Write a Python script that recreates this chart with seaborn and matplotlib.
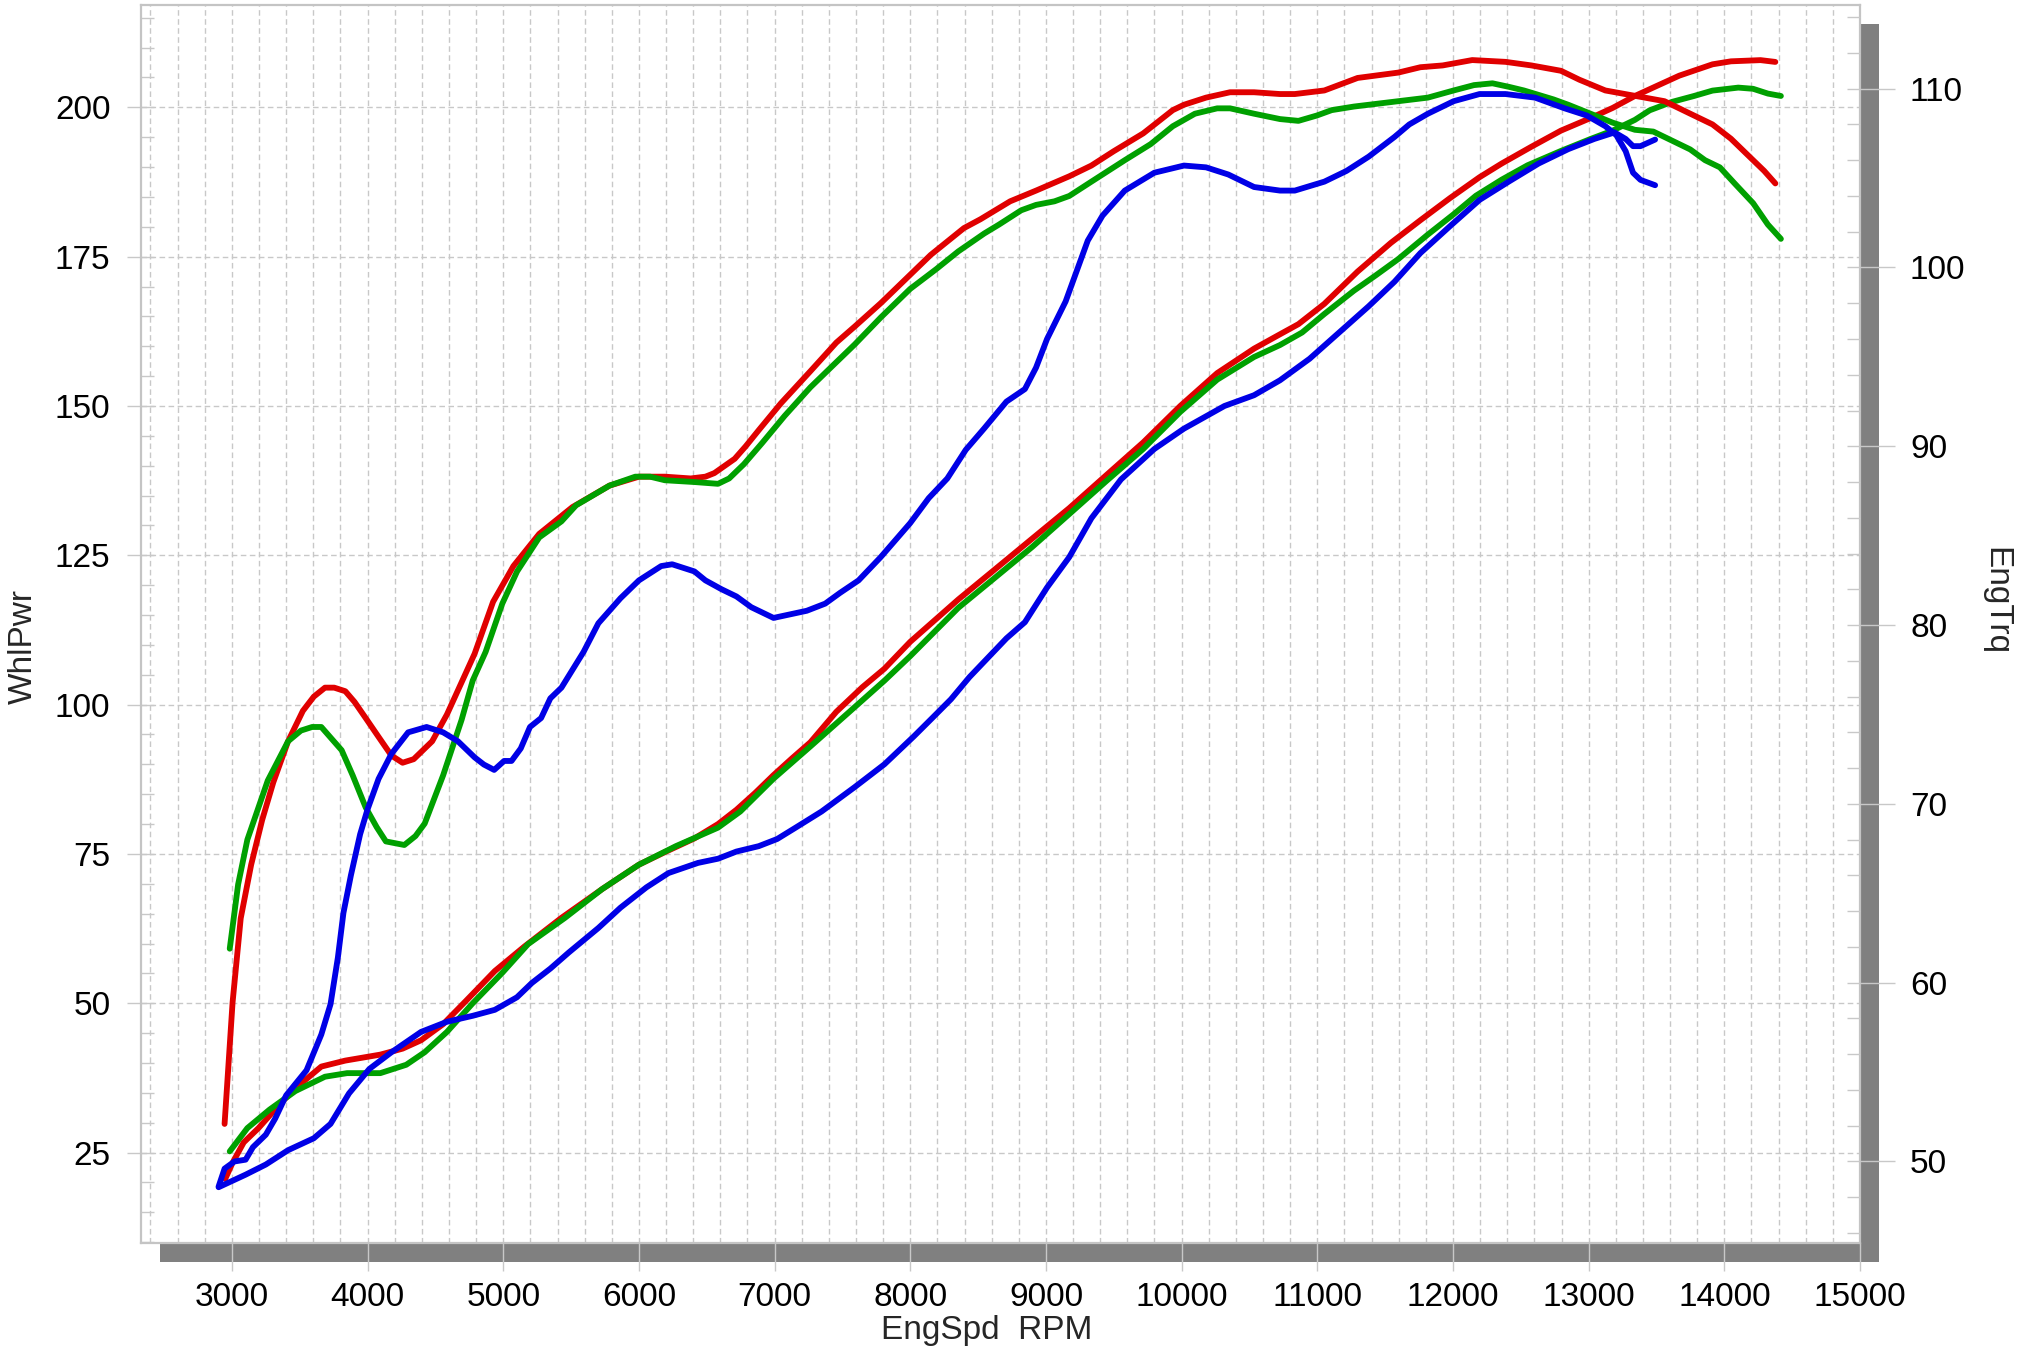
import matplotlib
matplotlib.use("Agg")
import matplotlib.pyplot as plt
from matplotlib.patches import Rectangle
from matplotlib.ticker import MultipleLocator
import seaborn as sns

# ---------------- data ----------------
red_pwr_rpm = [2951, 3005, 3087, 3196, 3373, 3496, 3659, 3836, 4094, 4258, 4394, 4557, 4721, 4938,
               5156, 5429, 5728, 6000, 6191, 6409, 6583, 6719, 6856, 6992, 7128, 7264, 7455, 7646,
               7809, 7999, 8354, 8627, 8899, 9172, 9444, 9717, 9990, 10262, 10534, 10725, 10861,
               11052, 11297, 11542, 11760, 11978, 12196, 12360, 12578, 12796, 13014, 13177, 13341,
               13504, 13668, 13913, 14049, 14267, 14376]
red_pwr = [20.6, 23.3, 26.7, 29.1, 33.6, 36.3, 39.4, 40.4, 41.4, 42.4, 43.8, 46.5, 50.3, 55.4,
           59.5, 64.3, 69.1, 73.2, 75.3, 77.6, 80.0, 82.4, 85.2, 88.2, 91.0, 93.7, 98.8, 102.9,
           106.0, 110.5, 117.6, 122.7, 127.8, 132.9, 138.4, 143.9, 150.0, 155.5, 159.6, 162.0, 163.7,
           167.1, 172.5, 177.3, 181.1, 184.8, 188.3, 190.6, 193.4, 196.1, 198.2, 199.9, 201.9,
           203.6, 205.3, 207.2, 207.7, 207.9, 207.6]

red_trq_rpm = [2946, 3005, 3065, 3142, 3223, 3305, 3414, 3523, 3604, 3686, 3754, 3836, 3904, 3986,
               4067, 4176, 4258, 4340, 4476, 4585, 4693, 4789, 4925, 5075, 5265, 5510, 5783, 6000,
               6191, 6382, 6490, 6556, 6706, 6787, 6883, 7046, 7264, 7455, 7591, 7782, 7973, 8150,
               8395, 8518, 8736, 8927, 9172, 9335, 9499, 9717, 9935, 10017, 10180, 10357, 10534,
               10725, 10834, 11052, 11297, 11597, 11760, 11924, 12142, 12387, 12578, 12796, 12932,
               13123, 13341, 13559, 13749, 13913, 14049, 14185, 14294, 14376]
red_trq = [52.1, 58.9, 63.6, 66.6, 69.1, 71.2, 73.5, 75.2, 76.0, 76.5, 76.5, 76.3, 75.7, 74.8,
           73.9, 72.7, 72.3, 72.5, 73.5, 75.0, 76.8, 78.4, 81.3, 83.3, 85.1, 86.6, 87.8, 88.3,
           88.3, 88.2, 88.3, 88.5, 89.3, 90.0, 90.9, 92.4, 94.2, 95.8, 96.7, 98.0, 99.4, 100.7,
           102.2, 102.7, 103.7, 104.3, 105.1, 105.7, 106.5, 107.5, 108.8, 109.1, 109.5, 109.8, 109.8,
           109.7, 109.7, 109.9, 110.6, 110.9, 111.2, 111.3, 111.6, 111.5, 111.3, 111.0, 110.5,
           109.9, 109.6, 109.3, 108.6, 108.0, 107.2, 106.2, 105.4, 104.7]

grn_pwr_rpm = [2984, 3114, 3278, 3468, 3686, 3849, 4094, 4285, 4421, 4585, 4775, 4993, 5183, 5455,
               5728, 6000, 6272, 6583, 6747, 6992, 7264, 7537, 7809, 7999, 8354, 8627, 8899, 9172,
               9444, 9717, 9990, 10262, 10534, 10725, 10888, 11052, 11270, 11433, 11597, 11815,
               12005, 12169, 12360, 12550, 12796, 13014, 13177, 13341, 13450, 13613, 13777, 13913,
               14103, 14212, 14321, 14417]
grn_pwr = [25.2, 29.1, 32.2, 35.3, 37.7, 38.3, 38.3, 39.7, 41.8, 45.2, 50.0, 55.1, 59.9, 64.3,
           69.1, 73.2, 76.3, 79.4, 82.1, 87.6, 93.0, 98.5, 104.0, 108.1, 116.2, 121.3, 126.4, 131.9,
           137.4, 142.8, 149.0, 154.4, 158.2, 160.2, 162.3, 165.4, 169.3, 171.9, 174.6, 178.7,
           182.1, 185.2, 187.9, 190.3, 192.7, 194.7, 196.1, 197.9, 199.5, 200.9, 201.9, 202.8,
           203.3, 203.1, 202.3, 201.9]

grn_trq_rpm = [2984, 3046, 3114, 3264, 3414, 3509, 3591, 3659, 3809, 3890, 3986, 4067, 4135, 4271,
               4353, 4421, 4557, 4693, 4775, 4870, 4993, 5102, 5265, 5429, 5537, 5783, 5973, 6082,
               6191, 6409, 6583, 6665, 6774, 6910, 7074, 7264, 7400, 7591, 7782, 7999, 8190, 8354,
               8545, 8654, 8818, 8927, 9063, 9172, 9335, 9581, 9772, 9935, 10098, 10262, 10357,
               10534, 10725, 10861, 10997, 11106, 11270, 11488, 11706, 11815, 12005, 12155, 12291,
               12414, 12523, 12741, 12850, 13014, 13177, 13341, 13477, 13613, 13749, 13858, 13967,
               14076, 14212, 14321, 14417]
grn_trq = [61.9, 65.5, 68.0, 71.3, 73.5, 74.1, 74.3, 74.3, 73.0, 71.6, 69.8, 68.7, 67.9, 67.7,
           68.2, 68.9, 71.6, 74.7, 76.9, 78.5, 81.2, 83.0, 84.9, 85.8, 86.7, 87.8, 88.3, 88.3,
           88.1, 88.0, 87.9, 88.2, 89.0, 90.2, 91.7, 93.3, 94.3, 95.7, 97.2, 98.8, 99.9, 100.9,
           101.9, 102.4, 103.2, 103.5, 103.7, 104.0, 104.8, 106.0, 106.9, 107.9, 108.6, 108.9, 108.9,
           108.6, 108.3, 108.2, 108.5, 108.8, 109.0, 109.2, 109.4, 109.5, 109.9, 110.2, 110.3,
           110.1, 109.9, 109.4, 109.1, 108.6, 108.1, 107.7, 107.6, 107.1, 106.6, 106.0, 105.6,
           104.7, 103.6, 102.4, 101.6]

blu_pwr_rpm = [2902, 3101, 3250, 3414, 3604, 3727, 3863, 4013, 4176, 4394, 4585, 4775, 4938, 5101,
               5211, 5347, 5483, 5701, 5864, 6055, 6218, 6436, 6583, 6719, 6883, 7019, 7155, 7346,
               7591, 7809, 8027, 8164, 8300, 8436, 8709, 8845, 9008, 9172, 9335, 9553, 9799, 10017,
               10316, 10534, 10725, 10943, 11161, 11379, 11569, 11760, 11978, 12196, 12414, 12632,
               12850, 13041, 13191, 13273, 13327, 13382, 13490]
blu_pwr = [19.2, 21.3, 23.0, 25.4, 27.4, 29.8, 34.9, 39.0, 41.8, 45.2, 46.9, 47.9, 48.9, 51.0,
           53.4, 55.8, 58.5, 62.6, 66.0, 69.4, 71.8, 73.5, 74.2, 75.4, 76.3, 77.5, 79.4, 82.1,
           86.2, 90.0, 94.7, 97.8, 100.9, 104.6, 111.1, 113.8, 119.6, 124.7, 131.2, 137.7, 142.8, 146.2,
           150.0, 151.8, 154.3, 157.9, 162.3, 166.7, 170.8, 175.6, 180.1, 184.5, 187.6, 190.6,
           193.0, 194.7, 195.8, 194.7, 193.5, 193.5, 194.6]

blu_trq_rpm = [2902, 2946, 3019, 3101, 3155, 3250, 3319, 3400, 3550, 3659, 3727, 3781, 3822, 3877,
               3945, 4000, 4081, 4176, 4299, 4435, 4557, 4666, 4789, 4857, 4933, 5006, 5061, 5129,
               5197, 5279, 5347, 5429, 5592, 5701, 5864, 6000, 6164, 6245, 6409, 6490, 6610, 6719,
               6828, 6992, 7237, 7373, 7482, 7619, 7782, 7999, 8136, 8273, 8409, 8545, 8709, 8845,
               8927, 9008, 9145, 9308, 9417, 9581, 9799, 10017, 10180, 10344, 10534, 10725, 10834,
               11052, 11215, 11379, 11569, 11678, 11815, 12005, 12196, 12387, 12605, 12823, 12986,
               13123, 13204, 13273, 13327, 13382, 13490]
blu_trq = [48.6, 49.6, 50.0, 50.1, 50.8, 51.5, 52.4, 53.7, 55.1, 57.1, 58.8, 61.4, 63.9, 66.0,
           68.3, 69.7, 71.4, 72.8, 74.0, 74.3, 74.0, 73.5, 72.6, 72.2, 71.9, 72.4, 72.4, 73.1,
           74.3, 74.8, 75.9, 76.5, 78.5, 80.1, 81.5, 82.5, 83.3, 83.4, 83.0, 82.5, 82.0, 81.6,
           81.0, 80.4, 80.8, 81.2, 81.8, 82.5, 83.8, 85.7, 87.1, 88.2, 89.8, 91.0, 92.5, 93.2,
           94.4, 96.0, 98.1, 101.5, 102.9, 104.3, 105.3, 105.7, 105.6, 105.2, 104.5, 104.3, 104.3,
           104.8, 105.4, 106.2, 107.3, 108.0, 108.6, 109.3, 109.7, 109.7, 109.5, 108.9, 108.5,
           107.9, 107.4, 106.5, 105.3, 104.9, 104.6]

x_major = list(range(3000, 15001, 1000))
left_major = [25, 50, 75, 100, 125, 150, 175, 200]
right_major = [50, 60, 70, 80, 90, 100, 110]

RED, GREEN, BLUE = "#e00000", "#00a000", "#0000e6"

# ---------------- style ----------------
sns.set_style("white")
plt.rcParams["font.family"] = ["Liberation Sans", "DejaVu Sans"]

W, H = 2028, 1350
fig = plt.figure(figsize=(W / 100, H / 100), dpi=100, facecolor="white")

axL, axR, axT, axB = 141, 1860, 5, 1243
pos = [axL / W, 1 - axB / H, (axR - axL) / W, (axB - axT) / H]

# drop shadow behind the plot frame
off = 19
fig.patches.append(Rectangle(((axL + off) / W, 1 - (axB + off) / H), pos[2], pos[3],
                             transform=fig.transFigure, facecolor="#808080",
                             edgecolor="none", zorder=-5))

ax = fig.add_axes(pos)
ax.set_facecolor("white")
ax2 = ax.twinx()

lw = 4.2
for xs, ys, c in [(red_pwr_rpm, red_pwr, RED), (grn_pwr_rpm, grn_pwr, GREEN), (blu_pwr_rpm, blu_pwr, BLUE)]:
    sns.lineplot(x=xs, y=ys, ax=ax, color=c, linewidth=lw, estimator=None, sort=False,
                 legend=False, solid_capstyle="round")
for xs, ys, c in [(red_trq_rpm, red_trq, RED), (grn_trq_rpm, grn_trq, GREEN), (blu_trq_rpm, blu_trq, BLUE)]:
    sns.lineplot(x=xs, y=ys, ax=ax2, color=c, linewidth=lw, estimator=None, sort=False,
                 legend=False, solid_capstyle="round")

ax.set_xlim(2330, 15000)
ax.set_ylim(9.86, 217.13)
ax2.set_ylim(45.44, 114.68)

gcol = "#c8c8c8"
ax.set_xticks(x_major)
ax.set_xticklabels([str(v) for v in x_major])
ax.xaxis.set_minor_locator(MultipleLocator(200))
ax.set_yticks(left_major)
ax.set_yticklabels([str(v) for v in left_major])
ax.yaxis.set_minor_locator(MultipleLocator(5))
ax.yaxis.remove_overlapping_locs = False
ax2.set_yticks(right_major)
ax2.set_yticklabels([str(v) for v in right_major])
ax2.yaxis.set_minor_locator(MultipleLocator(2))
ax2.yaxis.remove_overlapping_locs = False

ax.set_axisbelow(True)
ax.grid(axis="x", which="both", color=gcol, linestyle=(0, (4, 2.5)), linewidth=1)
ax.grid(axis="y", which="major", color=gcol, linestyle=(0, (4, 2.5)), linewidth=1)
ax2.grid(False)

fs = 24
ax.tick_params(axis="x", which="major", direction="out", length=20, width=1, color=gcol,
               pad=8, labelsize=fs, labelcolor="black", bottom=True, top=False)
ax.tick_params(axis="x", which="minor", length=0)
ax.tick_params(axis="y", which="major", direction="out", length=10, width=1, color=gcol,
               pad=12, labelsize=fs, labelcolor="black", left=True, right=False)
ax.tick_params(axis="y", which="minor", direction="in", length=9.5, width=1, color=gcol,
               left=True, right=False)
ax2.tick_params(axis="y", which="major", direction="out", length=25, width=1, color=gcol,
                pad=11, labelsize=fs, labelcolor="black", right=True, left=False)
ax2.tick_params(axis="y", which="minor", direction="in", length=9.5, width=1, color=gcol,
                right=True, left=False)

for s in ax.spines.values():
    s.set_visible(True)
    s.set_color("#c4c4c4")
    s.set_linewidth(1.6)
for s in ax2.spines.values():
    s.set_visible(False)

ax.set_xlabel("")
ax.set_ylabel("")
ax2.set_ylabel("")

fig.text(987 / W, 1 - 1331 / H, "EngSpd  RPM", ha="center", va="center", fontsize=fs)
fig.text(23 / W, 1 - 647 / H, "WhlPwr", ha="center", va="center", rotation=90, fontsize=fs)
fig.text(1996 / W, 1 - 601 / H, "EngTrq", ha="center", va="center", rotation=270, fontsize=fs)

fig.savefig("out.png", dpi=100, facecolor="white")
